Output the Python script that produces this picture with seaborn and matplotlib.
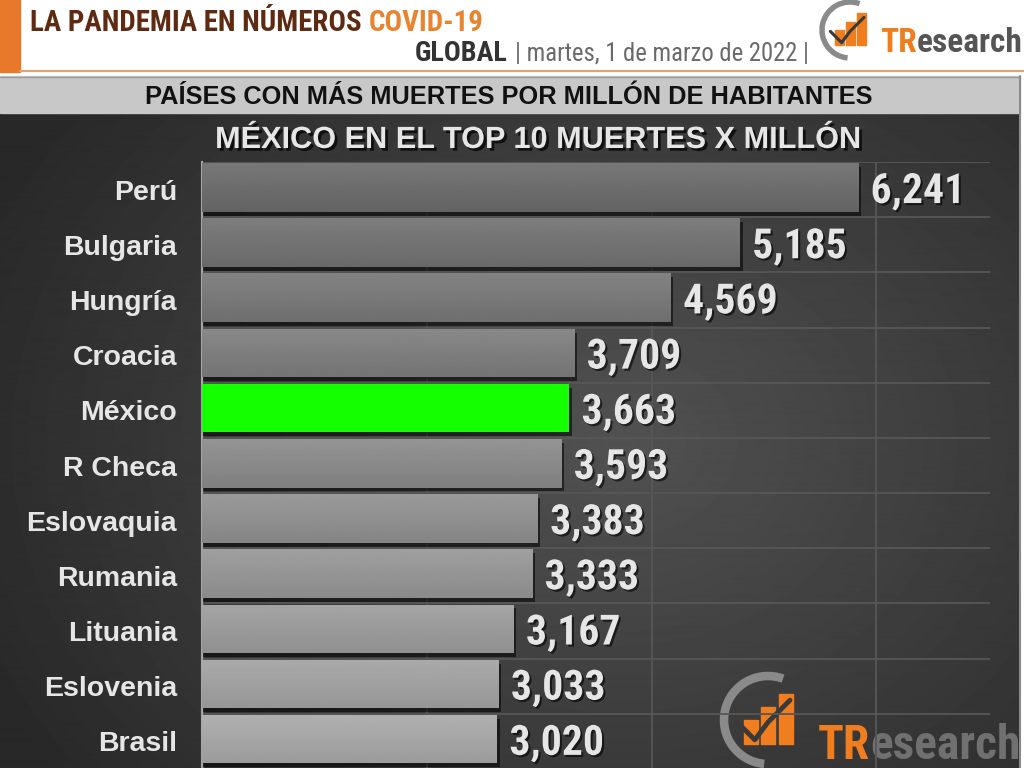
import numpy as np
import pandas as pd
import matplotlib.pyplot as plt
import matplotlib.patheffects as pe
from matplotlib.patches import Rectangle, Arc
from matplotlib import font_manager
import seaborn as sns

# datos
paises = ["Perú", "Bulgaria", "Hungría", "Croacia", "México", "R Checa",
          "Eslovaquia", "Rumania", "Lituania", "Eslovenia", "Brasil"]
muertes = [6241, 5185, 4569, 3709, 3663, 3593, 3383, 3333, 3167, 3033, 3020]
resaltado = "México"
lineas_x = [400, 2400, 4400, 6400]

df = pd.DataFrame({"pais": paises, "muertes": muertes})

sns.set_theme(style="dark")
plt.rcParams['font.family'] = ['Liberation Sans', 'DejaVu Sans']

# buscar una fuente condensada instalada
fuentes = font_manager.fontManager.ttflist
nombres = {f.name for f in fuentes}
COND = {'family': 'Liberation Sans'}
for cand in ['Roboto Condensed', 'Liberation Sans Narrow', 'Open Sans Condensed']:
    if cand in nombres:
        COND = {'family': cand}
        break
else:
    if any(f.name == 'DejaVu Sans' and 'condensed' in str(f.stretch) for f in fuentes):
        COND = {'family': 'DejaVu Sans', 'fontstretch': 'condensed'}

fig = plt.figure(figsize=(10.24, 7.68), dpi=100, facecolor='white')

# capa de fondo en pixeles
bg = fig.add_axes([0, 0, 1, 1], zorder=0)
rend = fig.canvas.get_renderer()

yy, xx = np.mgrid[0:656, 0:1020]
r = np.sqrt(((xx - 620) / 650) ** 2 + ((yy - 330) / 520) ** 2)
shade = np.clip(0.32 - 0.15 * r, 0.16, 0.32)
bg.imshow(shade, cmap='gray', vmin=0, vmax=1, extent=(0, 1020, 768, 113),
          aspect='auto', interpolation='bilinear', zorder=1)
bg.set_xlim(0, 1024)
bg.set_ylim(768, 0)
bg.axis('off')

# encabezado
bg.add_patch(Rectangle((0, 0), 20, 72, color='#e8782a', zorder=2))
bg.plot([20, 1024], [71, 71], color='#eba06a', lw=1.5, zorder=2)
bg.add_patch(Rectangle((0, 76), 1020, 37, color='#c8c8c8', zorder=2))
bg.plot([0, 1020], [76.5, 76.5], color='#9a9a9a', lw=1, zorder=3)
bg.plot([1020, 1020], [76, 768], color='#8a8a8a', lw=1.5, zorder=3)


def ajustar(textos, ancho):
    # escala el tamaño para ocupar el ancho del original
    total = sum(t.get_window_extent(rend).width for t in textos)
    for t in textos:
        t.set_fontsize(t.get_fontsize() * ancho / total)


def seguido(x, y, partes, ancho, **kw):
    textos = [bg.text(x, y, txt, color=c, **kw) for txt, c in partes]
    ajustar(textos, ancho)
    for t in textos:
        t.set_x(x)
        x += t.get_window_extent(rend).width
    return textos


seguido(30, 31, [("LA PANDEMIA EN NÚMEROS ", '#5e2a12'), ("COVID-19", '#e8842e')], 453,
        fontsize=19, fontweight='bold', va='baseline', zorder=4, **COND)
t = bg.text(508, 61, "GLOBAL", fontsize=19, fontweight='bold', color='#333333',
            ha='right', va='baseline', zorder=4, **COND)
ajustar([t], 93)
t = bg.text(515, 61, "| martes, 1 de marzo de 2022 |", fontsize=16, color='#6a6a6a',
            ha='left', va='baseline', zorder=4, **COND)
ajustar([t], 295)
t = bg.text(509, 97, "PAÍSES CON MÁS MUERTES POR MILLÓN DE HABITANTES", fontsize=17,
            fontweight='bold', color='#111111', ha='center', va='center', zorder=4)
ajustar([t], 728)

sombra = [pe.withSimplePatchShadow(offset=(2, -2), shadow_rgbFace='black', alpha=0.7)]
t = bg.text(537, 140, "MÉXICO EN EL TOP 10 MUERTES X MILLÓN", fontsize=21,
            fontweight='bold', color='#e6e6e6', ha='center', va='center', zorder=4,
            path_effects=sombra)
ajustar([t], 647)


def logo(cx, cy, s, tx, ty, ancho, gris):
    bg.add_patch(Arc((cx, cy), 2 * s, 2 * s, theta1=95, theta2=290, color='#8a8a8a',
                     lw=s * 0.14, zorder=4))
    w = s * 0.32
    for i, hgt in enumerate([0.55, 0.85, 1.15]):
        x0 = cx - s * 0.55 + i * (w + s * 0.08)
        bg.add_patch(Rectangle((x0, cy + s * 0.55 - hgt * s), w, hgt * s,
                               color='#f07d1e', zorder=5))
    bg.plot([cx - s * 0.7, cx - s * 0.3, cx, cx + s * 0.5],
            [cy + s * 0.05, cy + s * 0.45, cy + s * 0.05, cy - s * 0.45],
            color='#3a3a3a', lw=s * 0.08, zorder=6)
    seguido(tx, ty, [("TR", '#f07d1e'), ("esearch", gris)], ancho, fontsize=20,
            fontweight='bold', va='baseline', zorder=6, **COND)


logo(850, 30, 28, 880, 52, 142, '#555555')
logo(768, 720, 44, 818, 759, 202, '#707070')

# grafica de barras
ax = fig.add_axes([202 / 1024, -1 / 768, 788 / 1024, 607 / 768], zorder=2)
ax.patch.set_alpha(0)
colores = {p: ('#14ff00' if p == resaltado else '#777777') for p in paises}
sns.barplot(data=df, y='pais', x='muertes', hue='pais', palette=colores, legend=False,
            ax=ax, width=0.88, saturation=1, zorder=3)
barras = list(ax.containers)
xmin, xmax = 390, 7417

pos = np.arange(len(paises))
ax.barh(pos + 0.03, df['muertes'] + 25 - xmin, left=xmin, height=0.88,
        color='black', alpha=0.55, zorder=2, linewidth=0)

# degradado: barras superiores más oscuras, inferiores más claras
t_in = np.linspace(0, 1, 64).reshape(-1, 1)
for i, (c, pais) in enumerate(zip(barras, paises)):
    p = c.patches[0]
    p.set_x(xmin)
    p.set_width(p.get_width() - xmin)
    p.set_y(p.get_y() - 0.04)
    p.set_edgecolor('none')
    p.set_linewidth(0)
    if pais == resaltado:
        continue
    base = 0.44 + 0.22 * i / (len(paises) - 1)
    grad = base + 0.03 - 0.08 * t_in
    x0, y0, w, h = p.get_x(), p.get_y(), p.get_width(), p.get_height()
    im = ax.imshow(grad, cmap='gray', vmin=0, vmax=1, extent=(x0, x0 + w, y0 + h, y0),
                   aspect='auto', zorder=3.5, interpolation='bilinear')
    im.set_clip_path(p)

ax.set_xlim(xmin, xmax)
ax.set_ylim(10.5, -0.5)

for c in barras:
    etiquetas = ax.bar_label(c, labels=[f"{v:,.0f}" for v in c.datavalues], padding=9,
                             fontsize=30, fontweight='bold', color='#e6e6e6', zorder=5,
                             path_effects=[pe.withSimplePatchShadow(
                                 offset=(1.5, -1.5), shadow_rgbFace='black', alpha=0.6)],
                             **COND)
    for e in etiquetas:
        e.xyann = (9, -3)

ax.set_xticks(lineas_x)
ax.set_yticks(np.arange(-0.5, len(paises), 1), minor=True)
ax.grid(which='minor', axis='y', color='#575757', lw=1.3)
ax.grid(which='major', axis='x', color='#575757', lw=1.3)
ax.grid(which='major', axis='y', visible=False)
ax.tick_params(axis='x', labelbottom=False, length=0)
ax.tick_params(axis='y', which='both', length=0, pad=18, labelsize=20.5,
               labelcolor='#e6e6e6')
for lab in ax.get_yticklabels():
    lab.set_fontweight('bold')
ax.set_xlabel('')
ax.set_ylabel('')
for lado in ['top', 'right', 'bottom']:
    ax.spines[lado].set_visible(False)
ax.spines['left'].set_color('#a5a5a5')
ax.spines['left'].set_linewidth(1.5)

fig.savefig('out.png', dpi=100, facecolor='white')
